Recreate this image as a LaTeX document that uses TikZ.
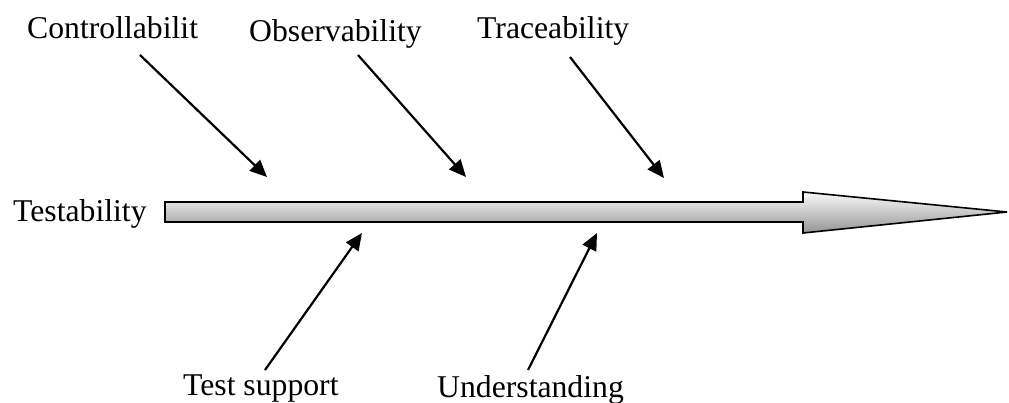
\documentclass[tikz,border=0pt]{standalone}
\usepackage{fontspec}
\setmainfont{Liberation Serif}
\usetikzlibrary{arrows.meta}
\begin{document}
\begin{tikzpicture}[x=1pt,y=-1pt,
  lbl/.style={anchor=base west,inner sep=0pt,font=\fontsize{31.7pt}{36pt}\selectfont},
  cause/.style={line width=2.2pt,-{Triangle[length=17pt,width=15pt]},shorten >=0pt}]
\useasboundingbox (0,0) rectangle (1009,403);
% big arrow
\path[draw=black,line width=1.6pt,line join=miter,top color=white!96!gray,bottom color=black!42]
  (165,202) -- (803,202) -- (803,192) -- (1007,212) -- (803,233) -- (803,222) -- (165,222) -- cycle;
% labels
\node[lbl] (ctrl) at (27,39) {Controllabilit};
\node[lbl] (obs) at (249,42) {Observability};
\node[lbl] (trace) at (477,39) {Traceability};
\node[lbl] (test) at (13,222) {Testability};
\node[lbl] (sup) at (183,395) {Test support};
\node[lbl] (und) at (437,397) {Understanding};
% arrow ends
\coordinate (c1) at (140,55);  \coordinate (t1) at (267,177);
\coordinate (c2) at (358,55);  \coordinate (t2) at (466,177);
\coordinate (c3) at (570,57);  \coordinate (t3) at (664,178);
\coordinate (c4) at (265,370); \coordinate (t4) at (362,233);
\coordinate (c5) at (528,370); \coordinate (t5) at (597,233);
\draw[cause] (c1) -- (t1);
\draw[cause] (c2) -- (t2);
\draw[cause] (c3) -- (t3);
\draw[cause] (c4) -- (t4);
\draw[cause] (c5) -- (t5);
\end{tikzpicture}
\end{document}
